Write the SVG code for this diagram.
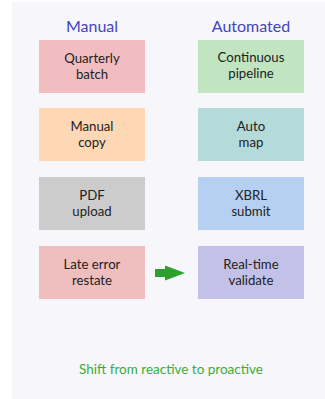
<svg xmlns="http://www.w3.org/2000/svg" width="325" height="399" viewBox="0 0 325 399">
  <style>
    .title { font-family: "Lato", "DejaVu Sans", sans-serif; font-size: 16px; fill: #4444bb; text-anchor: middle; }
    .lbl { font-family: "Lato", "DejaVu Sans", sans-serif; font-size: 13.2px; fill: #222222; text-anchor: middle; }
    .foot { font-family: "Lato", "DejaVu Sans", sans-serif; font-size: 13.5px; fill: #3cac3c; text-anchor: middle; }
  </style>
  <rect x="0" y="0" width="325" height="399" fill="#ffffff"/>
  <rect x="12" y="2" width="313" height="397" fill="#f6f6fb"/>

  <text class="title" x="92" y="32">Manual</text>
  <text class="title" x="251" y="32">Automated</text>

  <g id="quarterly">
    <rect x="39" y="40" width="106" height="53" fill="#f2bdc0"/>
    <text class="lbl" x="92" y="63">Quarterly</text>
    <text class="lbl" x="92" y="79">batch</text>
  </g>
  <g id="continuous">
    <rect x="198" y="40" width="106" height="53" fill="#c1e4c1"/>
    <text class="lbl" x="251" y="62">Continuous</text>
    <text class="lbl" x="251" y="78">pipeline</text>
  </g>
  <g id="manual-copy">
    <rect x="39" y="108" width="106" height="53" fill="#fed7b5"/>
    <text class="lbl" x="92" y="131">Manual</text>
    <text class="lbl" x="92" y="147">copy</text>
  </g>
  <g id="auto-map">
    <rect x="198" y="108" width="106" height="53" fill="#b4dad9"/>
    <text class="lbl" x="251" y="131">Auto</text>
    <text class="lbl" x="251" y="147">map</text>
  </g>
  <g id="pdf-upload">
    <rect x="39" y="177" width="106" height="53" fill="#cccccc"/>
    <text class="lbl" x="92" y="200">PDF</text>
    <text class="lbl" x="92" y="216">upload</text>
  </g>
  <g id="xbrl-submit">
    <rect x="198" y="177" width="106" height="53" fill="#b5d0f0"/>
    <text class="lbl" x="251" y="200">XBRL</text>
    <text class="lbl" x="251" y="216">submit</text>
  </g>
  <g id="late-error">
    <rect x="39" y="246" width="106" height="53" fill="#efbebe"/>
    <text class="lbl" x="92" y="269">Late error</text>
    <text class="lbl" x="92" y="285">restate</text>
  </g>
  <g id="realtime">
    <rect x="198" y="246" width="106" height="53" fill="#c3c1e7"/>
    <text class="lbl" x="251" y="269">Real-time</text>
    <text class="lbl" x="251" y="285">validate</text>
  </g>

  <g id="connectors">
    <path d="M155 269 H165 V265.5 L185 273 L165 280.5 V277 H155 Z" fill="#2ca02c"/>
  </g>

  <text class="foot" x="171" y="374">Shift from reactive to proactive</text>
</svg>
